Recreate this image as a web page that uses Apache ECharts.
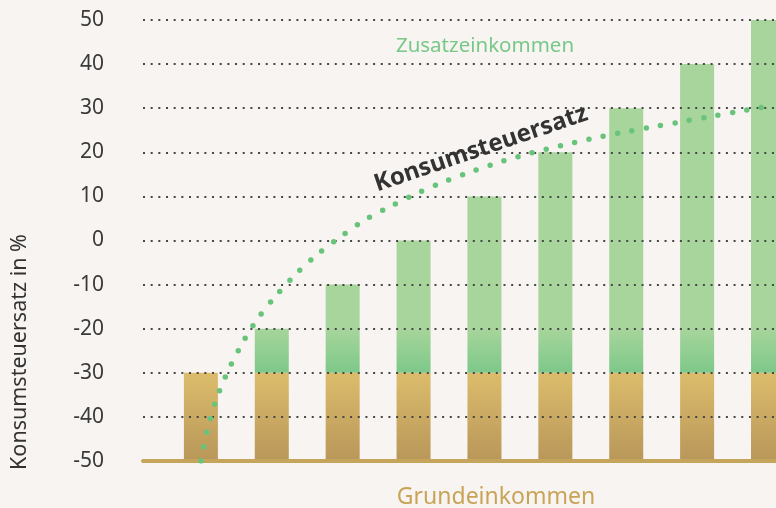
<!DOCTYPE html>
<html>
<head>
<meta charset="utf-8">
<script src="https://cdn.jsdelivr.net/npm/echarts@6/dist/echarts.min.js"></script>
<style>
html,body{margin:0;padding:0;background:#f7f4f1;}
#chart{width:776px;height:508px;}
</style>
</head>
<body>
<div id="chart"></div>
<script>
// Category positions (one bar per step of additional income)
const positions = ['1', '2', '3', '4', '5', '6', '7', '8', '9'];
// Basic income block (from the axis floor -50 up to -30)
const grundeinkommen = [20, 20, 20, 20, 20, 20, 20, 20, 20];
// Additional income stacked on top
const zusatzeinkommen = [0, 10, 20, 30, 40, 50, 60, 70, 80];
// Consumption tax rate curve: position and percent
const steuerX = [1.00, 1.09, 1.21, 1.37, 1.56, 1.78, 2.04, 2.33, 2.64, 2.98, 3.33, 3.70, 4.08, 4.47, 4.87, 5.27, 5.68, 6.09, 6.50, 6.92, 7.33, 7.75, 8.16, 8.58, 9.03];
const steuerY = [-50, -42.9, -36.3, -30.0, -24.0, -18.2, -12.9, -7.8, -3.2, 0.9, 4.8, 7.9, 10.9, 13.5, 15.9, 18.0, 19.9, 21.5, 23.0, 24.4, 25.6, 26.8, 28.0, 29.2, 30.5];
// Y axis ticks
const yTicks = [-50, -40, -30, -20, -10, 0, 10, 20, 30, 40, 50];

const FONT = 'Noto Sans';
const chart = echarts.init(document.getElementById('chart'), null, {renderer: 'canvas'});

const yMin = yTicks[0], yMax = yTicks[yTicks.length - 1];
const baseData = positions.map(() => yMin);
const lineData = steuerX.map((x, i) => [x, steuerY[i]]);

chart.setOption({
  backgroundColor: '#f7f4f1',
  animation: false,
  grid: [
    {left: 200.9, right: 8, top: 20, bottom: 47, containLabel: false},
    {left: 143, right: 0, top: 20, bottom: 47, containLabel: false}
  ],
  xAxis: [
    {type: 'category', gridIndex: 0, data: positions, boundaryGap: false, show: false},
    {
      type: 'value', gridIndex: 1, min: 0.18, max: 9.13, z: 6,
      axisLabel: {show: false}, axisTick: {show: false}, splitLine: {show: false},
      axisLine: {show: true, onZero: false, lineStyle: {color: '#c5a45c', width: 4}}
    }
  ],
  yAxis: [
    {type: 'value', gridIndex: 0, min: yMin, max: yMax, show: false},
    {
      type: 'value', gridIndex: 1, min: yMin, max: yMax, interval: 10, z: 4,
      axisLine: {show: false}, axisTick: {show: false},
      axisLabel: {color: '#3a3a3a', fontSize: 21, fontFamily: FONT, margin: 39},
      splitLine: {show: true, lineStyle: {color: '#474747', width: 2, type: [2, 5.67]}}
    }
  ],
  series: [
    {
      type: 'bar', xAxisIndex: 0, yAxisIndex: 0, stack: 'inc', stackStrategy: 'all', barWidth: 34, clip: false,
      data: baseData, itemStyle: {color: 'rgba(0,0,0,0)'}, silent: true
    },
    {
      type: 'bar', xAxisIndex: 0, yAxisIndex: 0, stack: 'inc', stackStrategy: 'all', barWidth: 34, clip: false,
      data: grundeinkommen,
      itemStyle: {color: new echarts.graphic.LinearGradient(0, 0, 0, 1, [
        {offset: 0, color: '#dcbc6b'}, {offset: 1, color: '#b8975a'}
      ])}
    },
    {
      type: 'bar', xAxisIndex: 0, yAxisIndex: 0, stack: 'inc', stackStrategy: 'all', barWidth: 34, clip: false,
      data: zusatzeinkommen,
      itemStyle: {color: {type: 'linear', x: 0, y: 329, x2: 0, y2: 373, global: true,
        colorStops: [{offset: 0, color: '#a7d59b'}, {offset: 1, color: '#7dc889'}]}}
    },
    {
      type: 'line', xAxisIndex: 1, yAxisIndex: 1, data: lineData, smooth: 0.3, symbol: 'none', z: 8,
      lineStyle: {color: '#68c47a', width: 5.5, type: [0, 14.6], cap: 'round'}
    }
  ],
  graphic: [
    {type: 'text', x: 485, y: 46, z: 10, style: {text: 'Zusatzeinkommen', fill: '#78c888', font: '20.5px "' + FONT + '"', align: 'center', verticalAlign: 'middle'}},
    {type: 'text', x: 496, y: 497, z: 10, style: {text: 'Grundeinkommen', fill: '#c9a457', font: '23px "' + FONT + '"', align: 'center', verticalAlign: 'middle'}},
    {type: 'text', x: 481, y: 149, rotation: 0.328, z: 10, style: {text: 'Konsumsteuersatz', fill: '#333333', font: 'bold 24px "' + FONT + '"', align: 'center', verticalAlign: 'middle'}},
    {type: 'text', x: 20, y: 352, rotation: Math.PI / 2, z: 10, style: {text: 'Konsumsteuersatz in %', fill: '#333333', font: '21.5px "' + FONT + '"', align: 'center', verticalAlign: 'middle'}}
  ]
});
</script>
</body>
</html>
